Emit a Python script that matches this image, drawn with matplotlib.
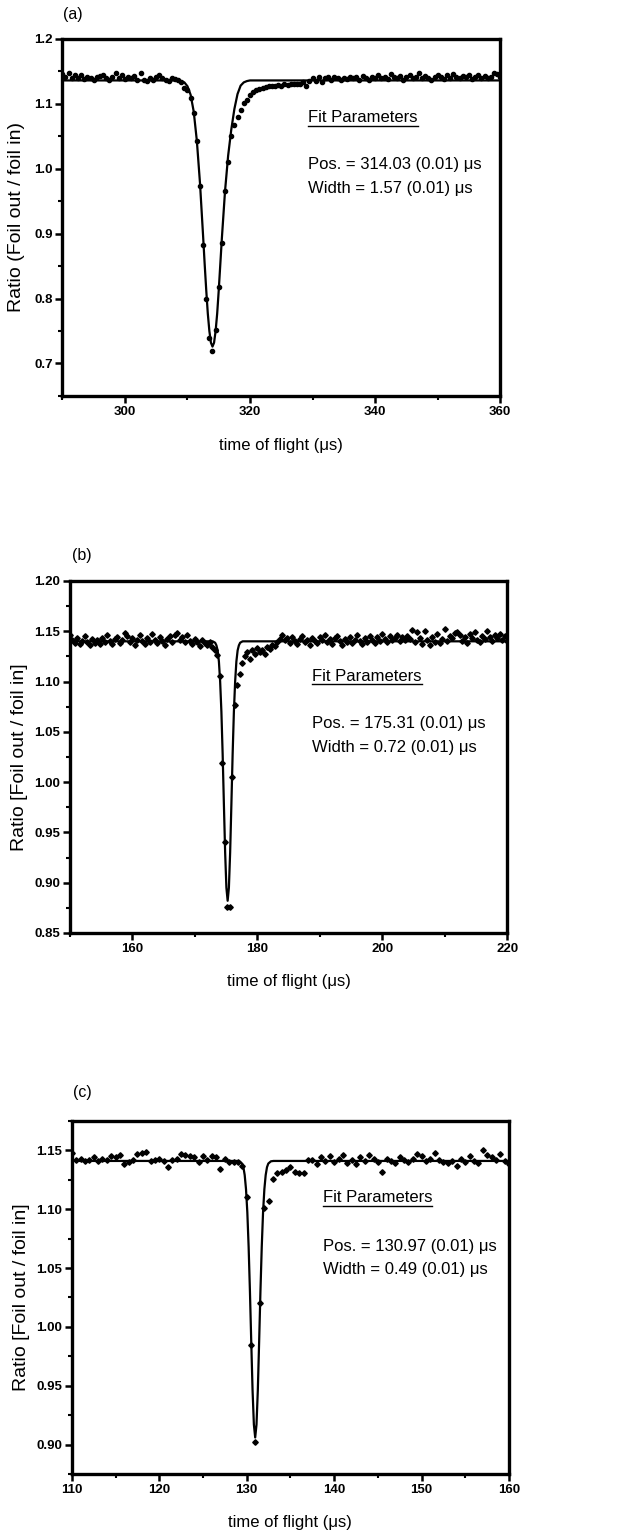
import matplotlib
matplotlib.use('Agg')
import matplotlib.pyplot as plt
from matplotlib.ticker import MultipleLocator, FormatStrFormatter
from matplotlib.lines import Line2D

plt.rcParams['font.family'] = ['Liberation Sans', 'DejaVu Sans']

# ---- panel (a) data ----
t_a = [290.0, 290.5, 291.0, 291.5, 292.0, 292.5, 293.0, 293.5, 294.0, 294.5,
       295.0, 295.5, 296.0, 296.5, 297.0, 297.5, 298.0, 298.5, 299.0, 299.5,
       300.0, 300.5, 301.0, 301.5, 302.0, 302.5, 303.0, 303.5, 304.0, 304.5,
       305.0, 305.5, 306.0, 306.5, 307.0, 307.5, 308.0, 308.5, 309.0, 309.5,
       310.0, 310.5, 311.0, 311.5, 312.0, 312.5, 313.0, 313.5, 314.0, 314.5,
       315.0, 315.5, 316.0, 316.5, 317.0, 317.5, 318.0, 318.5, 319.0, 319.5,
       320.0, 320.5, 321.0, 321.5, 322.0, 322.5, 323.0, 323.5, 324.0, 324.5,
       325.0, 325.5, 326.0, 326.5, 327.0, 327.5, 328.0, 328.5, 329.0, 329.5,
       330.0, 330.5, 331.0, 331.5, 332.0, 332.5, 333.0, 333.5, 334.0, 334.5,
       335.0, 335.5, 336.0, 336.5, 337.0, 337.5, 338.0, 338.5, 339.0, 339.5,
       340.0, 340.5, 341.0, 341.5, 342.0, 342.5, 343.0, 343.5, 344.0, 344.5,
       345.0, 345.5, 346.0, 346.5, 347.0, 347.5, 348.0, 348.5, 349.0, 349.5,
       350.0, 350.5, 351.0, 351.5, 352.0, 352.5, 353.0, 353.5, 354.0, 354.5,
       355.0, 355.5, 356.0, 356.5, 357.0, 357.5, 358.0, 358.5, 359.0, 359.5,
       360.0]
r_a = [1.146, 1.141, 1.148, 1.139, 1.144, 1.140, 1.145, 1.138, 1.142, 1.140,
       1.137, 1.141, 1.143, 1.145, 1.139, 1.137, 1.142, 1.147, 1.140, 1.144,
       1.138, 1.141, 1.139, 1.143, 1.137, 1.148, 1.136, 1.135, 1.139, 1.136,
       1.141, 1.144, 1.140, 1.137, 1.135, 1.139, 1.138, 1.137, 1.134, 1.124,
       1.121, 1.109, 1.086, 1.042, 0.973, 0.883, 0.800, 0.739, 0.719, 0.751,
       0.818, 0.885, 0.965, 1.011, 1.050, 1.068, 1.080, 1.091, 1.101, 1.106,
       1.114, 1.118, 1.122, 1.123, 1.125, 1.126, 1.127, 1.128, 1.128, 1.129,
       1.127, 1.130, 1.129, 1.130, 1.131, 1.130, 1.131, 1.133, 1.127, 1.135,
       1.140, 1.135, 1.141, 1.133, 1.139, 1.142, 1.137, 1.141, 1.139, 1.136,
       1.140, 1.138, 1.142, 1.139, 1.141, 1.137, 1.143, 1.140, 1.136, 1.141,
       1.139, 1.144, 1.140, 1.142, 1.138, 1.146, 1.141, 1.139, 1.143, 1.137,
       1.141, 1.145, 1.140, 1.142, 1.147, 1.139, 1.143, 1.140, 1.136, 1.142,
       1.145, 1.141, 1.138, 1.144, 1.140, 1.146, 1.142, 1.139, 1.143, 1.141,
       1.145, 1.138, 1.142, 1.144, 1.140, 1.143, 1.139, 1.141, 1.147, 1.146,
       1.142]
fit_t_a = [290.0, 308.0, 309.0, 309.5, 310.0, 310.5, 311.0, 311.5, 312.0, 312.5,
           312.75, 313.0, 313.25, 313.5, 313.75, 314.0, 314.25, 314.5, 314.75, 315.0,
           315.25, 315.5, 316.0, 316.5, 317.0, 317.5, 318.0, 318.5, 319.0, 319.5,
           320.0, 360.0]
fit_r_a = [1.136, 1.136, 1.135, 1.133, 1.127, 1.114, 1.088, 1.043, 0.978, 0.896,
           0.853, 0.813, 0.777, 0.750, 0.732, 0.726, 0.732, 0.750, 0.777, 0.813,
           0.853, 0.893, 0.965, 1.020, 1.060, 1.092, 1.115, 1.128, 1.133, 1.135,
           1.136, 1.136]

# ---- panel (b) data ----
t_b = [150.0, 150.4, 150.8, 151.2, 151.6, 152.0, 152.4, 152.8, 153.2, 153.6,
       154.0, 154.4, 154.8, 155.2, 155.6, 156.0, 156.4, 156.8, 157.2, 157.6,
       158.0, 158.4, 158.8, 159.2, 159.6, 160.0, 160.4, 160.8, 161.2, 161.6,
       162.0, 162.4, 162.8, 163.2, 163.6, 164.0, 164.4, 164.8, 165.2, 165.6,
       166.0, 166.4, 166.8, 167.2, 167.6, 168.0, 168.4, 168.8, 169.2, 169.6,
       170.0, 170.4, 170.8, 171.2, 171.6, 172.0, 172.4, 172.8, 173.2, 173.6,
       174.0, 174.4, 174.8, 175.2, 175.6, 176.0, 176.4, 176.8, 177.2, 177.6,
       178.0, 178.4, 178.8, 179.2, 179.6, 180.0, 180.4, 180.8, 181.2, 181.6,
       182.0, 182.4, 182.8, 183.2, 183.6, 184.0, 184.4, 184.8, 185.2, 185.6,
       186.0, 186.4, 186.8, 187.2, 187.6, 188.0, 188.4, 188.8, 189.2, 189.6,
       190.0, 190.4, 190.8, 191.2, 191.6, 192.0, 192.4, 192.8, 193.2, 193.6,
       194.0, 194.4, 194.8, 195.2, 195.6, 196.0, 196.4, 196.8, 197.2, 197.6,
       198.0, 198.4, 198.8, 199.2, 199.6, 200.0, 200.4, 200.8, 201.2, 201.6,
       202.0, 202.4, 202.8, 203.2, 203.6, 204.0, 204.4, 204.8, 205.2, 205.6,
       206.0, 206.4, 206.8, 207.2, 207.6, 208.0, 208.4, 208.8, 209.2, 209.6,
       210.0, 210.4, 210.8, 211.2, 211.6, 212.0, 212.4, 212.8, 213.2, 213.6,
       214.0, 214.4, 214.8, 215.2, 215.6, 216.0, 216.4, 216.8, 217.2, 217.6,
       218.0, 218.4, 218.8, 219.2, 219.6, 220.0]
r_b = [1.146, 1.141, 1.138, 1.143, 1.137, 1.140, 1.145, 1.139, 1.136, 1.142,
       1.138, 1.141, 1.137, 1.143, 1.139, 1.146, 1.140, 1.137, 1.142, 1.144,
       1.138, 1.141, 1.148, 1.145, 1.139, 1.143, 1.136, 1.141, 1.146, 1.140,
       1.137, 1.143, 1.139, 1.147, 1.141, 1.138, 1.144, 1.140, 1.136, 1.142,
       1.145, 1.139, 1.146, 1.148, 1.141, 1.144, 1.139, 1.146, 1.140, 1.137,
       1.142, 1.139, 1.135, 1.141, 1.138, 1.136, 1.139, 1.134,
       1.131, 1.126, 1.106, 1.019, 0.940, 0.876, 0.876, 1.005, 1.077, 1.097,
       1.108, 1.118, 1.125, 1.129, 1.122, 1.131, 1.127, 1.133, 1.129, 1.131,
       1.127, 1.134, 1.132, 1.136, 1.135, 1.139, 1.142, 1.146, 1.141, 1.143,
       1.138, 1.144, 1.140,
       1.137, 1.142, 1.145, 1.139, 1.141, 1.136, 1.143, 1.140, 1.138, 1.144,
       1.141, 1.146, 1.139, 1.142, 1.137, 1.143, 1.145, 1.140, 1.136, 1.142,
       1.139, 1.144, 1.138, 1.141, 1.146, 1.140, 1.137, 1.143, 1.139, 1.145,
       1.141, 1.138, 1.144, 1.140, 1.147, 1.142, 1.139, 1.145, 1.141, 1.143,
       1.146, 1.140, 1.144, 1.141, 1.145, 1.142, 1.151, 1.139, 1.149, 1.143,
       1.137, 1.150, 1.141, 1.136, 1.144, 1.139, 1.147, 1.138, 1.142, 1.152,
       1.140, 1.145, 1.143, 1.148, 1.149, 1.146, 1.140, 1.144, 1.138, 1.147,
       1.143, 1.149, 1.141, 1.139, 1.145, 1.142, 1.150, 1.144, 1.140, 1.146,
       1.143, 1.147, 1.141, 1.145, 1.140]
fit_t_b = [150.0, 172.85, 173.25, 173.45, 173.65, 173.85, 174.05, 174.25, 174.45, 174.65,
           174.85, 175.05, 175.25, 175.45, 175.65, 175.85, 176.05, 176.25, 176.45, 176.65,
           176.85, 177.05, 177.25, 177.65, 220.0]
fit_r_b = [1.140, 1.140, 1.1386, 1.136, 1.131, 1.120, 1.100, 1.070, 1.028, 0.978,
           0.930, 0.895, 0.882, 0.895, 0.930, 0.978, 1.028, 1.070, 1.100, 1.120,
           1.131, 1.136, 1.1386, 1.140, 1.140]

# ---- panel (c) data ----
t_c = [110.0, 110.5, 111.0, 111.5, 112.0, 112.5, 113.0, 113.5, 114.0, 114.5,
       115.0, 115.5, 116.0, 116.5, 117.0, 117.5, 118.0, 118.5, 119.0, 119.5,
       120.0, 120.5, 121.0, 121.5, 122.0, 122.5, 123.0, 123.5, 124.0, 124.5,
       125.0, 125.5, 126.0, 126.5, 127.0, 127.5, 128.0, 128.5, 129.0, 129.5,
       130.0, 130.5, 131.0, 131.5, 132.0, 132.5, 133.0, 133.5, 134.0, 134.5,
       135.0, 135.5, 136.0, 136.5, 137.0, 137.5, 138.0, 138.5, 139.0, 139.5,
       140.0, 140.5, 141.0, 141.5, 142.0, 142.5, 143.0, 143.5, 144.0, 144.5,
       145.0, 145.5, 146.0, 146.5, 147.0, 147.5, 148.0, 148.5, 149.0, 149.5,
       150.0, 150.5, 151.0, 151.5, 152.0, 152.5, 153.0, 153.5, 154.0, 154.5,
       155.0, 155.5, 156.0, 156.5, 157.0, 157.5, 158.0, 158.5, 159.0, 159.5,
       160.0]
r_c = [1.148, 1.142, 1.143, 1.141, 1.142, 1.144, 1.141, 1.143, 1.142, 1.145,
       1.144, 1.146, 1.138, 1.140, 1.142, 1.147, 1.148, 1.149, 1.141, 1.142,
       1.143, 1.141, 1.136, 1.142, 1.143, 1.147, 1.146, 1.145, 1.144, 1.140,
       1.145, 1.142, 1.145, 1.144, 1.134, 1.143, 1.140, 1.140,
       1.140, 1.137, 1.110, 0.985, 0.902, 1.020, 1.101, 1.107, 1.126, 1.131,
       1.132, 1.133, 1.136, 1.132, 1.131, 1.131, 1.142, 1.142, 1.138, 1.144,
       1.141, 1.145, 1.140, 1.143, 1.146, 1.139, 1.142, 1.138, 1.144, 1.141,
       1.146, 1.143, 1.140, 1.132, 1.143, 1.141, 1.139, 1.144, 1.142, 1.140,
       1.143, 1.147, 1.145, 1.141, 1.143, 1.148, 1.142, 1.140, 1.139, 1.141,
       1.137, 1.143, 1.140, 1.145, 1.141, 1.139, 1.150, 1.146, 1.144, 1.142,
       1.147, 1.141, 1.138]
fit_t_c = [110.0, 128.87, 129.17, 129.47, 129.62, 129.77, 129.92, 130.07, 130.22, 130.37,
           130.52, 130.67, 130.82, 130.97, 131.12, 131.27, 131.42, 131.57, 131.72, 131.87,
           132.02, 132.17, 132.32, 132.47, 132.77, 133.07, 160.0]
fit_r_c = [1.141, 1.141, 1.1407, 1.1388, 1.1357, 1.129, 1.117, 1.0975, 1.068, 1.030,
           0.987, 0.946, 0.917, 0.906, 0.917, 0.946, 0.987, 1.030, 1.068, 1.0975,
           1.117, 1.129, 1.1357, 1.1388, 1.1407, 1.141, 1.141]

panels = [
    dict(t=t_a, r=r_a, ft=fit_t_a, fr=fit_r_a, tag='(a)', marker='o', ms=3.0,
         xlim=(290, 360), ylim=(0.65, 1.2), xmaj=20, xmin=10, ymaj=0.1, ymin=0.05, yfmt='%.1f',
         ylabel='Ratio (Foil out / foil in)', pos='Pos. = 314.03 (0.01) μs', width='Width = 1.57 (0.01) μs',
         rect=[0.099, 0.7424, 0.695, 0.2323], txt=(0.562, 0.78, 0.647, 0.58), ylab_x=-0.085, tagxy=(63, 15)),
    dict(t=t_b, r=r_b, ft=fit_t_b, fr=fit_r_b, tag='(b)', marker='D', ms=2.8,
         xlim=(150, 220), ylim=(0.85, 1.20), xmaj=20, xmin=10, ymaj=0.05, ymin=0.025, yfmt='%.2f',
         ylabel='Ratio [Foil out / foil in]', pos='Pos. = 175.31 (0.01) μs', width='Width = 0.72 (0.01) μs',
         rect=[0.111, 0.393, 0.694, 0.229], txt=(0.554, 0.73, 0.594, 0.526), ylab_x=-0.096, tagxy=(72, 555)),
    dict(t=t_c, r=r_c, ft=fit_t_c, fr=fit_r_c, tag='(c)', marker='D', ms=2.8,
         xlim=(110, 160), ylim=(0.875, 1.175), xmaj=10, xmin=5, ymaj=0.05, ymin=0.025, yfmt='%.2f',
         ylabel='Ratio [Foil out / foil in]', pos='Pos. = 130.97 (0.01) μs', width='Width = 0.49 (0.01) μs',
         rect=[0.114, 0.041, 0.694, 0.2297], txt=(0.574, 0.782, 0.643, 0.578), ylab_x=-0.096, tagxy=(73, 1093)),
]

W, H = 630, 1537
fig = plt.figure(figsize=(W / 100, H / 100), dpi=100)

heads = []
for p in panels:
    ax = fig.add_axes(p['rect'])
    ax.plot(p['ft'], p['fr'], color='black', lw=1.6, zorder=2)
    ax.plot(p['t'], p['r'], linestyle='none', marker=p['marker'], ms=p['ms'],
            color='black', mec='black', zorder=3)
    ax.set_xlim(*p['xlim'])
    ax.set_ylim(*p['ylim'])
    ax.xaxis.set_major_locator(MultipleLocator(p['xmaj']))
    ax.xaxis.set_minor_locator(MultipleLocator(p['xmin']))
    ax.yaxis.set_major_locator(MultipleLocator(p['ymaj']))
    ax.yaxis.set_minor_locator(MultipleLocator(p['ymin']))
    ax.yaxis.set_major_formatter(FormatStrFormatter(p['yfmt']))
    ax.tick_params(which='major', direction='out', length=5, width=1.8, labelsize=9.5, pad=2)
    ax.tick_params(which='minor', direction='out', length=3, width=1.5)
    for lab in ax.get_xticklabels() + ax.get_yticklabels():
        lab.set_fontweight('bold')
    for s in ax.spines.values():
        s.set_linewidth(2.4)
    ax.set_xlabel('time of flight (μs)', fontsize=12)
    ax.set_ylabel(p['ylabel'], fontsize=14)
    ax.xaxis.set_label_coords(0.5, -0.117)
    ax.yaxis.set_label_coords(p['ylab_x'], 0.5)

    tx, ty, py, wy = p['txt']
    h = ax.text(tx, ty, 'Fit Parameters', transform=ax.transAxes, fontsize=12, va='center', ha='left')
    ax.text(tx, py, p['pos'], transform=ax.transAxes, fontsize=12, va='center', ha='left')
    ax.text(tx, wy, p['width'], transform=ax.transAxes, fontsize=12, va='center', ha='left')
    heads.append((ax, h))

    fx, fy = p['tagxy']
    fig.text(fx / W, 1 - fy / H, p['tag'], fontsize=11.5, ha='left', va='center')

# underline the "Fit Parameters" headings
fig.canvas.draw()
renderer = fig.canvas.get_renderer()
for ax, h in heads:
    bb = h.get_window_extent(renderer)
    inv = fig.transFigure.inverted()
    (x0, y0), (x1, y1) = inv.transform([(bb.x0, bb.y0), (bb.x1, bb.y1)])
    fig.add_artist(Line2D([x0, x1], [y0 - 0.0006, y0 - 0.0006], color='black', lw=1.0,
                          transform=fig.transFigure))

fig.savefig('out.png', dpi=100)
